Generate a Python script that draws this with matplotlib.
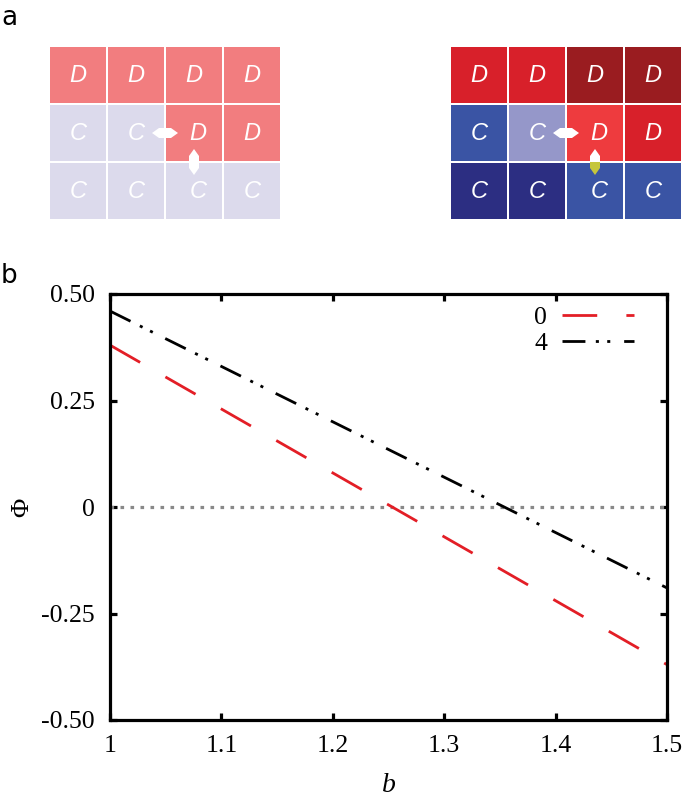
import matplotlib.pyplot as plt
from matplotlib.patches import Rectangle, Polygon

plt.rcParams['lines.scale_dashes'] = False

# ---- panel a: lattice snapshots ----
left_labels = [["D", "D", "D", "D"],
               ["C", "C", "D", "D"],
               ["C", "C", "C", "C"]]
left_colors = [["#f27d7f"] * 4,
               ["#dcdaec", "#dcdaec", "#f27d7f", "#f27d7f"],
               ["#dcdaec"] * 4]
right_labels = left_labels
right_colors = [["#d8202a", "#d8202a", "#9a1c20", "#9a1c20"],
                ["#3a54a4", "#9597c9", "#ee3b3e", "#d8202a"],
                ["#2c2e82", "#2c2e82", "#3a54a4", "#3a54a4"]]

# ---- panel b: Phi vs b ----
b_vals = [1.0, 1.25, 1.5]
phi_0 = [0.38, 0.005, -0.37]
phi_4 = [0.46, 0.135, -0.19]
xticks = [1, 1.1, 1.2, 1.3, 1.4, 1.5]
xticklabels = ["1", "1.1", "1.2", "1.3", "1.4", "1.5"]
yticks = [-0.5, -0.25, 0, 0.25, 0.5]
yticklabels = ["-0.50", "-0.25", "0", "0.25", "0.50"]

W, H = 689, 802
fig = plt.figure(figsize=(W / 100, H / 100), dpi=100)
serif = 'Liberation Serif'
fs = 18.5

# top panel in pixel coordinates
top_h = 235
axa = fig.add_axes([0, 1 - top_h / H, 1, top_h / H])
axa.set_xlim(0, W)
axa.set_ylim(top_h, 0)
axa.axis('off')

pitch = 58
size = 56


def draw_grid(x0, y0, labels, colors):
    for r in range(3):
        for c in range(4):
            x = x0 + c * pitch
            y = y0 + r * pitch
            axa.add_patch(Rectangle((x, y), size, size, facecolor=colors[r][c],
                                    edgecolor='none'))
            dx = 4 if c == 2 and r > 0 else 0
            axa.text(x + size / 2 + dx, y + size / 2 + 1, labels[r][c],
                     color='white', fontsize=17, style='italic',
                     family='Liberation Sans', ha='center', va='center')


def hexarrow(cx, cy, horizontal=True, color='white', half=None):
    L, T, h = 13, 7, 5
    pts = [(-L, 0), (-L + T, -h), (L - T, -h), (L, 0), (L - T, h), (-L + T, h)]
    if not horizontal:
        pts = [(y, x) for x, y in pts]
    if half == 'top':
        pts = [(0, -L), (h, -L + T), (h, 0), (-h, 0), (-h, -L + T)]
    if half == 'bottom':
        pts = [(0, L), (h, L - T), (h, 0), (-h, 0), (-h, L - T)]
    axa.add_patch(Polygon([(cx + x, cy + y) for x, y in pts], closed=True,
                          facecolor=color, edgecolor='none'))


x_left, x_right, y_top = 50, 451, 47
draw_grid(x_left, y_top, left_labels, left_colors)
draw_grid(x_right, y_top, right_labels, right_colors)

hexarrow(x_left + 2 * pitch - 1, y_top + pitch + size / 2)
hexarrow(x_left + 2 * pitch + size / 2, y_top + 2 * pitch - 1, horizontal=False)
hexarrow(x_right + 2 * pitch - 1, y_top + pitch + size / 2)
hexarrow(x_right + 2 * pitch + size / 2, y_top + 2 * pitch - 1, half='top')
hexarrow(x_right + 2 * pitch + size / 2, y_top + 2 * pitch - 1, half='bottom',
         color='#c5c63c')

fig.text(1 / W, 1 - 25 / H, "a", fontsize=19, family='DejaVu Sans',
         va='baseline', ha='left')
fig.text(1 / W, 1 - 283 / H, "b", fontsize=19, family='DejaVu Sans',
         va='baseline', ha='left')

# bottom panel
L0, R0, T0, B0 = 110, 667, 294, 720
ax = fig.add_axes([L0 / W, 1 - B0 / H, (R0 - L0) / W, (B0 - T0) / H])
ax.axhline(0, color='#888888', lw=2.3, dashes=(2.6, 4.6))
ax.plot(b_vals, phi_0, color='#e31e26', lw=2.0, dashes=(25, 21), label='0')
ax.plot(b_vals, phi_4, color='black', lw=2.0,
        dashes=(16.5, 7.5, 2.2, 6, 2.2, 10), label='4')
ax.set_xlim(1, 1.5)
ax.set_ylim(-0.5, 0.5)
ax.set_xticks(xticks)
ax.set_xticklabels(xticklabels)
ax.set_yticks(yticks)
ax.set_yticklabels(yticklabels)
for s in ax.spines.values():
    s.set_linewidth(2.3)
ax.tick_params(direction='in', length=5, width=2.3, top=True, right=True,
               labelsize=fs, pad=11)
for lab in ax.get_xticklabels() + ax.get_yticklabels():
    lab.set_family(serif)
ax.set_xlabel("b", fontsize=20, family=serif, style='italic', labelpad=11)
ax.set_ylabel("Φ", fontsize=19, family=serif, rotation=90)
ax.yaxis.set_label_coords((33 - L0) / (R0 - L0), 0.5)

ax.legend(loc='upper right', frameon=False, markerfirst=False,
          prop={'family': serif, 'size': fs},
          handlelength=2.8, handletextpad=0.6, labelspacing=0.12,
          borderaxespad=0.0, bbox_to_anchor=(0.96, 0.995))

fig.savefig("out.png", dpi=100)
